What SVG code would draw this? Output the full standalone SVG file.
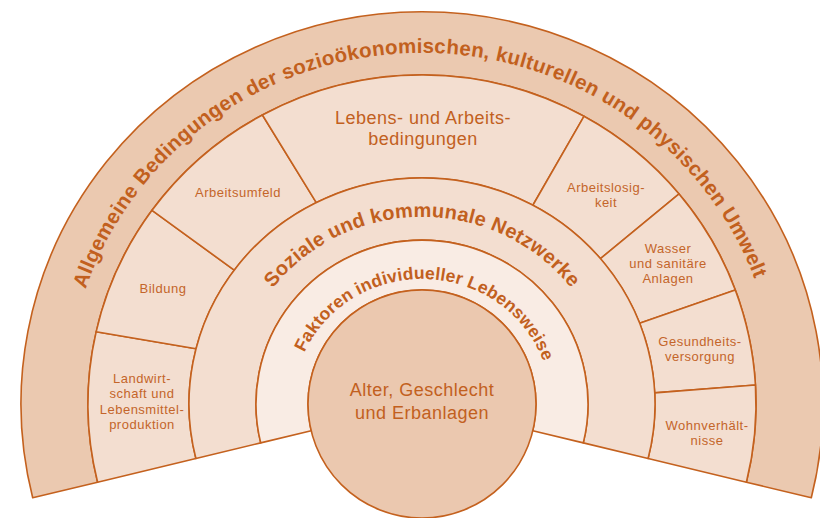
<svg xmlns="http://www.w3.org/2000/svg" width="820" height="518" viewBox="0 0 820 518">
<style>
.band{stroke:#C4611E;stroke-width:1.6;stroke-linejoin:round}
.outer{fill:#EBC9B0}
.cell{fill:#F3DED0}
.social{fill:#F3DED0}
.life{fill:#F9ECE4}
.core{fill:#EBC8AF}
.arc{font-family:"Liberation Sans",Arial,sans-serif;font-weight:bold;fill:#C2601E}
.lbl{font-family:"Liberation Sans",Arial,sans-serif;font-size:13px;letter-spacing:0.5px;fill:#C4652A;text-anchor:middle}
.big{font-family:"Liberation Sans",Arial,sans-serif;font-size:18px;letter-spacing:0.5px;fill:#C2601E;text-anchor:middle}
</style>
<defs>
<path id="pOuter" d="M 87.5,524 A 356 351 0 1 1 756.5,524"/>
<path id="pSocial" d="M 243.5,468 A 190 187 0 1 1 600.5,468"/>
<path id="pLife" d="M 300.8,446.8 A 129 125 0 1 1 543.2,446.8"/>
</defs>

<g id="outer-ring">
<path class="band outer" d="M 32.7,497.8 A 401 392 0 1 1 811.3,497.8 L 746.4,482.2 A 334 329 0 1 0 97.6,482.2 Z"/>
<text class="arc" font-size="20.5" letter-spacing="0.3"><textPath href="#pOuter" startOffset="49.6%" text-anchor="middle">Allgemeine Bedingungen der sozioökonomischen, kulturellen und physischen Umwelt</textPath></text>
</g>

<g id="cell-landwirtschaft">
<path class="band cell" d="M 97.6,482.2 A 334 329 0 0 1 96.14,331.81 L 196.07,348.77 A 233 226 0 0 0 195.9,458.5 Z"/>
<text class="lbl"><tspan x="142" y="383">Landwirt-</tspan><tspan x="142" y="398">schaft und</tspan><tspan x="142" y="414">Lebensmittel-</tspan><tspan x="142" y="429">produktion</tspan></text>
</g>
<g id="cell-bildung">
<path class="band cell" d="M 96.14,331.81 A 334 329 0 0 1 152.03,210.3 L 234.24,270.17 A 233 226 0 0 0 196.07,348.77 Z"/>
<text class="lbl" x="163" y="293">Bildung</text>
</g>
<g id="cell-arbeitsumfeld">
<path class="band cell" d="M 152.03,210.3 A 334 329 0 0 1 262.43,114.97 L 316.31,202.59 A 233 226 0 0 0 234.24,270.17 Z"/>
<text class="lbl" x="238" y="197">Arbeitsumfeld</text>
</g>
<g id="cell-lebensbedingungen">
<path class="band cell" d="M 262.43,114.97 A 334 329 0 0 1 583.97,116.28 L 532.87,205.23 A 233 226 0 0 0 316.31,202.59 Z"/>
<text class="big"><tspan x="423" y="124">Lebens- und Arbeits-</tspan><tspan x="423" y="145">bedingungen</tspan></text>
</g>
<g id="cell-arbeitslosigkeit">
<path class="band cell" d="M 583.97,116.28 A 334 329 0 0 1 679.06,193.95 L 600.42,258.65 A 233 226 0 0 0 532.87,205.23 Z"/>
<text class="lbl"><tspan x="606" y="192">Arbeitslosig-</tspan><tspan x="606" y="207">keit</tspan></text>
</g>
<g id="cell-wasser">
<path class="band cell" d="M 679.06,193.95 A 334 329 0 0 1 735.27,289.9 L 639.58,323.16 A 233 226 0 0 0 600.42,258.65 Z"/>
<text class="lbl"><tspan x="668" y="253">Wasser</tspan><tspan x="668" y="268">und sanitäre</tspan><tspan x="668" y="283">Anlagen</tspan></text>
</g>
<g id="cell-gesundheit">
<path class="band cell" d="M 735.27,289.9 A 334 329 0 0 1 755.44,384.97 L 654.72,392.92 A 233 226 0 0 0 639.58,323.16 Z"/>
<text class="lbl"><tspan x="700" y="346">Gesundheits-</tspan><tspan x="700" y="361">versorgung</tspan></text>
</g>
<g id="cell-wohnen">
<path class="band cell" d="M 755.44,384.97 A 334 329 0 0 1 746.4,482.2 L 648.1,458.5 A 233 226 0 0 0 654.72,392.92 Z"/>
<text class="lbl"><tspan x="707" y="430">Wohnverhält-</tspan><tspan x="707" y="445">nisse</tspan></text>
</g>

<g id="social-ring">
<path class="band social" d="M 195.9,458.5 A 233 226 0 1 1 648.1,458.5 L 583.3,442.9 A 166 164 0 1 0 260.7,442.9 Z"/>
<text class="arc" font-size="20" letter-spacing="0.3"><textPath href="#pSocial" startOffset="50%" text-anchor="middle">Soziale und kommunale Netzwerke</textPath></text>
</g>

<g id="lifestyle-ring">
<path class="band life" d="M 260.7,442.9 A 166 164 0 1 1 583.3,442.9 L 532.8,430.7 A 114 114 0 1 0 311.2,430.7 Z"/>
<text class="arc" font-size="17.5" letter-spacing="0.2"><textPath href="#pLife" startOffset="51%" text-anchor="middle">Faktoren individueller Lebensweise</textPath></text>
</g>

<g id="core">
<circle class="band core" cx="422" cy="404" r="114"/>
<text class="big"><tspan x="422" y="396">Alter, Geschlecht</tspan><tspan x="422" y="419">und Erbanlagen</tspan></text>
</g>

<g id="connectors"></g>
</svg>
